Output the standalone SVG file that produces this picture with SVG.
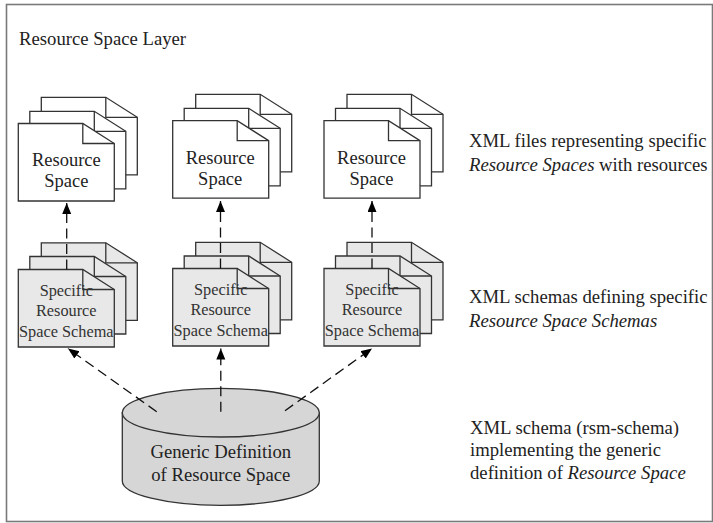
<svg xmlns="http://www.w3.org/2000/svg" width="713" height="523" viewBox="0 0 713 523">
  <style>
    text { font-family: "Liberation Serif", "Times New Roman", serif; fill: #222; }
    .frame { fill: #fff; stroke: #7a7a7a; stroke-width: 1.6; }
    .doc { fill: #fff; stroke: #333; stroke-width: 1.3; stroke-linejoin: miter; }
    .schema .doc { fill: #e8e8e8; }
    .fold { fill: none; stroke: #333; stroke-width: 1.3; }
    .lbl { font-size: 18.5px; text-anchor: middle; }
    .slbl { font-size: 16.3px; text-anchor: middle; fill: #333; }
    .note { font-size: 18.7px; }
    .cyl { fill: #d6d6d6; stroke: #333; stroke-width: 1.3; }
    .conn { fill: none; stroke: #111; stroke-width: 1.3; stroke-dasharray: 10 5.5; }
  </style>
  <defs>
    <!-- folded-corner document, origin at top-left, 96 x 77.5 -->
    <path id="page" d="M0,0 H64.5 L96,20 V77.5 H0 Z"/>
    <path id="pagefold" d="M64.5,0 V20 H96"/>
    <marker id="arrow" markerUnits="userSpaceOnUse" markerWidth="12" markerHeight="10" refX="11" refY="4.5" orient="auto">
      <path d="M0,0 L11,4.5 L0,9 Z" fill="#000"/>
    </marker>
  </defs>

  <rect class="frame" x="6.5" y="4.5" width="706" height="517"/>
  <text class="note" x="19" y="44.5">Resource Space Layer</text>

  <!-- Resource Space documents (XML instance files) -->
  <g id="rs1">
    <g transform="translate(41.3,97.3)"><use href="#page" class="doc"/><use href="#pagefold" class="fold"/></g>
    <g transform="translate(29.8,111.3)"><use href="#page" class="doc"/><use href="#pagefold" class="fold"/></g>
    <g transform="translate(18.3,123.5)"><use href="#page" class="doc"/><use href="#pagefold" class="fold"/></g>
    <text class="lbl" x="66.3" y="166">Resource</text>
    <text class="lbl" x="66.3" y="186.5">Space</text>
  </g>
  <g id="rs2">
    <g transform="translate(195.7,94.3)"><use href="#page" class="doc"/><use href="#pagefold" class="fold"/></g>
    <g transform="translate(184.2,108.3)"><use href="#page" class="doc"/><use href="#pagefold" class="fold"/></g>
    <g transform="translate(172.7,120.7)"><use href="#page" class="doc"/><use href="#pagefold" class="fold"/></g>
    <text class="lbl" x="220.2" y="163.5">Resource</text>
    <text class="lbl" x="220.2" y="184.5">Space</text>
  </g>
  <g id="rs3">
    <g transform="translate(347,94.3)"><use href="#page" class="doc"/><use href="#pagefold" class="fold"/></g>
    <g transform="translate(335.5,108.3)"><use href="#page" class="doc"/><use href="#pagefold" class="fold"/></g>
    <g transform="translate(324,120.7)"><use href="#page" class="doc"/><use href="#pagefold" class="fold"/></g>
    <text class="lbl" x="371.5" y="163.5">Resource</text>
    <text class="lbl" x="371.5" y="184.5">Space</text>
  </g>

  <!-- Specific Resource Space Schemas -->
  <g id="schema1" class="schema">
    <g transform="translate(41.3,242.8)"><use href="#page" class="doc"/><use href="#pagefold" class="fold"/></g>
    <g transform="translate(29.8,256.5)"><use href="#page" class="doc"/><use href="#pagefold" class="fold"/></g>
    <g transform="translate(18.3,269.5)"><use href="#page" class="doc"/><use href="#pagefold" class="fold"/></g>
    <text class="slbl" x="66.3" y="295.5">Specific</text>
    <text class="slbl" x="66.3" y="316">Resource</text>
    <text class="slbl" x="66.3" y="336.5">Space Schema</text>
  </g>
  <g id="schema2" class="schema">
    <g transform="translate(195.7,242.3)"><use href="#page" class="doc"/><use href="#pagefold" class="fold"/></g>
    <g transform="translate(184.2,256)"><use href="#page" class="doc"/><use href="#pagefold" class="fold"/></g>
    <g transform="translate(172.7,268.5)"><use href="#page" class="doc"/><use href="#pagefold" class="fold"/></g>
    <text class="slbl" x="220.7" y="294.5">Specific</text>
    <text class="slbl" x="220.7" y="315">Resource</text>
    <text class="slbl" x="220.7" y="335.5">Space Schema</text>
  </g>
  <g id="schema3" class="schema">
    <g transform="translate(347,242.3)"><use href="#page" class="doc"/><use href="#pagefold" class="fold"/></g>
    <g transform="translate(335.5,256)"><use href="#page" class="doc"/><use href="#pagefold" class="fold"/></g>
    <g transform="translate(324,268.5)"><use href="#page" class="doc"/><use href="#pagefold" class="fold"/></g>
    <text class="slbl" x="372" y="294.5">Specific</text>
    <text class="slbl" x="372" y="315">Resource</text>
    <text class="slbl" x="372" y="335.5">Space Schema</text>
  </g>

  <!-- Generic definition store -->
  <g id="generic">
    <path class="cyl" d="M122.3,412.7 V481 A98.5,24.3 0 0 0 319.3,481 V412.7 Z"/>
    <ellipse class="cyl" cx="220.8" cy="412.7" rx="98.5" ry="24.3"/>
    <text class="lbl" x="220.8" y="458" style="font-size:18.7px">Generic Definition</text>
    <text class="lbl" x="220.8" y="480.5" style="font-size:18.7px">of Resource Space</text>
  </g>

  <!-- Side notes -->
  <g id="notes">
    <text class="note" x="469" y="147">XML files representing specific</text>
    <text class="note" x="469" y="171"><tspan font-style="italic">Resource Spaces</tspan> with resources</text>
    <text class="note" x="469" y="303">XML schemas defining specific</text>
    <text class="note" x="469" y="327" font-style="italic">Resource Space Schemas</text>
    <text class="note" x="470" y="433.5">XML schema (rsm-schema)</text>
    <text class="note" x="470" y="456">implementing the generic</text>
    <text class="note" x="470" y="478.5">definition of <tspan font-style="italic">Resource Space</tspan></text>
  </g>

  <!-- Connectors -->
  <g id="connectors">
    <line class="conn" x1="66.7" y1="269.5" x2="66.7" y2="203" marker-end="url(#arrow)"/>
    <line class="conn" x1="220.5" y1="268.5" x2="220.5" y2="201" marker-end="url(#arrow)"/>
    <line class="conn" x1="372" y1="268.5" x2="372" y2="201" marker-end="url(#arrow)"/>
    <line class="conn" x1="156.7" y1="411.7" x2="68" y2="348.5" marker-end="url(#arrow)"/>
    <line class="conn" x1="220.8" y1="411.7" x2="220.8" y2="348.5" marker-end="url(#arrow)"/>
    <line class="conn" x1="285" y1="410.7" x2="372" y2="348.5" marker-end="url(#arrow)"/>
  </g>
</svg>
